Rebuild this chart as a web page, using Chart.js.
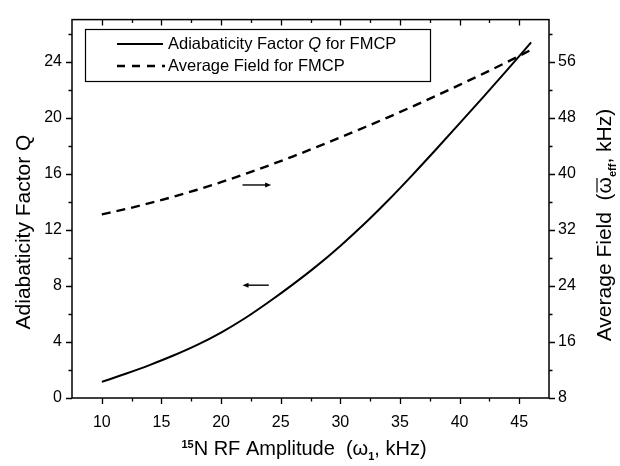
<!DOCTYPE html>
<html>
<head>
<meta charset="utf-8">
<script src="https://cdn.jsdelivr.net/npm/chart.js@4.4.0/dist/chart.umd.min.js"></script>
<style>
  html, body { margin: 0; padding: 0; background: #fff; }
</style>
</head>
<body>
<canvas id="chart" width="620" height="466"></canvas>
<script>
// values
const rfAmplitude = [10, 12, 14, 16, 18, 20, 22, 24, 26, 28, 30, 32, 34, 36, 38, 40, 42, 44, 46];
const adiabaticityQ = [1.15, 1.73, 2.35, 3.03, 3.79, 4.67, 5.69, 6.85, 8.09, 9.41, 10.85, 12.41, 14.09, 15.87, 17.71, 19.59, 21.49, 23.41, 25.37];
const averageField = [34.2, 34.96, 35.8, 36.72, 37.72, 38.8, 39.96, 41.18, 42.46, 43.8, 45.18, 46.6, 48.06, 49.56, 51.1, 52.68, 54.3, 55.96, 57.68];

const xTicks = [10, 15, 20, 25, 30, 35, 40, 45];
const xMinorTicks = [12.5, 17.5, 22.5, 27.5, 32.5, 37.5, 42.5];
const qTicks = [0, 4, 8, 12, 16, 20, 24];
const qMinorTicks = [2, 6, 10, 14, 18, 22, 26];
const fieldTicks = [8, 16, 24, 32, 40, 48, 56];
const fieldMinorTicks = [12, 20, 28, 36, 44, 52, 60];

// little arrows telling which axis each curve belongs to (data units)
const arrowQ = { from: 24.0, to: 21.8, y: 8.05, axis: 'y' };
const arrowField = { from: 21.8, to: 24.2, y: 15.2, axis: 'y' };

const FONT = '"Liberation Sans", Arial, Helvetica, sans-serif';

function pairs(xs, ys) {
  return xs.map((x, i) => ({ x: x, y: ys[i] }));
}

function fixedTicks(list) {
  return scale => { scale.ticks = list.map(v => ({ value: v })); };
}

// draw a run of text pieces (different fonts / offsets) left to right
function drawRuns(ctx, runs, x, y) {
  let cx = x;
  runs.forEach(r => {
    ctx.font = r.font;
    ctx.fillText(r.text, cx, y + (r.dy || 0));
    const w = ctx.measureText(r.text).width;
    if (r.bar) {
      ctx.save();
      ctx.lineWidth = 1.2;
      ctx.beginPath();
      ctx.moveTo(cx + 1, y - r.bar);
      ctx.lineTo(cx + w - 1, y - r.bar);
      ctx.stroke();
      ctx.restore();
    }
    cx += w;
  });
}

function runsWidth(ctx, runs) {
  return runs.reduce((s, r) => { ctx.font = r.font; return s + ctx.measureText(r.text).width; }, 0);
}

function drawArrow(ctx, x0, x1, y) {
  const dir = Math.sign(x1 - x0);
  ctx.beginPath();
  ctx.moveTo(x0, y);
  ctx.lineTo(x1 - dir * 4, y);
  ctx.stroke();
  ctx.beginPath();
  ctx.moveTo(x1, y);
  ctx.lineTo(x1 - dir * 6, y - 2.5);
  ctx.lineTo(x1 - dir * 6, y + 2.5);
  ctx.closePath();
  ctx.fill();
}

const decorations = {
  id: 'decorations',
  afterDraw(chart) {
    const { ctx, chartArea: a, scales } = chart;
    const sx = scales.x, sq = scales.y, sf = scales.y2;
    ctx.save();
    ctx.strokeStyle = '#000';
    ctx.fillStyle = '#000';

    // frame
    ctx.lineWidth = 1.5;
    ctx.strokeRect(a.left, a.top, a.right - a.left, a.bottom - a.top);

    // tick marks
    ctx.lineWidth = 1.3;
    ctx.beginPath();
    const xt = (vals, len) => vals.forEach(v => {
      const p = Math.round(sx.getPixelForValue(v)) + 0.5;
      ctx.moveTo(p, a.bottom); ctx.lineTo(p, a.bottom + len);
      ctx.moveTo(p, a.top); ctx.lineTo(p, a.top + len);
    });
    xt(xTicks, 6); xt(xMinorTicks, 3.5);
    const lt = (vals, len) => vals.forEach(v => {
      const p = Math.round(sq.getPixelForValue(v)) + 0.5;
      ctx.moveTo(a.left, p); ctx.lineTo(a.left - len, p);
    });
    lt(qTicks, 6); lt(qMinorTicks, 3.5);
    const rt = (vals, len) => vals.forEach(v => {
      const p = Math.round(sf.getPixelForValue(v)) + 0.5;
      ctx.moveTo(a.right, p); ctx.lineTo(a.right + len, p);
    });
    rt(fieldTicks, 6); rt(fieldMinorTicks, 3.5);
    ctx.stroke();

    // arrows
    ctx.lineWidth = 1.4;
    [arrowQ, arrowField].forEach(ar => {
      const y = scales[ar.axis].getPixelForValue(ar.y);
      drawArrow(ctx, sx.getPixelForValue(ar.from), sx.getPixelForValue(ar.to), y);
    });

    // legend box
    ctx.lineWidth = 1.2;
    ctx.strokeRect(85.5, 29.5, 345, 52);
    ctx.lineWidth = 2;
    ctx.beginPath(); ctx.moveTo(117, 44); ctx.lineTo(163, 44); ctx.stroke();
    ctx.setLineDash([8, 7]);
    ctx.lineWidth = 2.4;
    ctx.beginPath(); ctx.moveTo(117, 66); ctx.lineTo(165, 66); ctx.stroke();
    ctx.setLineDash([]);
    ctx.textBaseline = 'middle';
    ctx.textAlign = 'left';
    drawRuns(ctx, [
      { text: 'Adiabaticity Factor ', font: '16.5px ' + FONT },
      { text: 'Q', font: 'italic 16.5px ' + FONT },
      { text: ' for FMCP', font: '16.5px ' + FONT }
    ], 168, 44);
    drawRuns(ctx, [{ text: 'Average Field for FMCP', font: '16.5px ' + FONT }], 168, 66);

    // axis titles
    ctx.textBaseline = 'alphabetic';
    const xRuns = [
      { text: '15', font: 'bold 11px ' + FONT, dy: -7 },
      { text: 'N RF Amplitude  (\u03c9', font: '20px ' + FONT },
      { text: '1', font: 'bold 11px ' + FONT, dy: 5 },
      { text: ', kHz)', font: '20px ' + FONT }
    ];
    drawRuns(ctx, xRuns, 304 - runsWidth(ctx, xRuns) / 2, 455);

    ctx.save();
    ctx.translate(30, 232);
    ctx.rotate(-Math.PI / 2);
    const lRuns = [{ text: 'Adiabaticity Factor Q', font: '21px ' + FONT }];
    drawRuns(ctx, lRuns, -runsWidth(ctx, lRuns) / 2, 0);
    ctx.restore();

    ctx.save();
    ctx.translate(611, 225);
    ctx.rotate(-Math.PI / 2);
    const rRuns = [
      { text: 'Average Field  (', font: '21px ' + FONT },
      { text: '\u03c9', font: '21px ' + FONT, bar: 14 },
      { text: 'eff', font: 'bold 11px ' + FONT, dy: 5 },
      { text: ', kHz)', font: '21px ' + FONT }
    ];
    drawRuns(ctx, rRuns, -runsWidth(ctx, rRuns) / 2, 0);
    ctx.restore();

    ctx.restore();
  }
};

const tickFont = { family: FONT, size: 16 };
const noGrid = { display: false, drawTicks: false };

new Chart(document.getElementById('chart'), {
  type: 'line',
  data: {
    datasets: [
      {
        label: 'Adiabaticity Factor Q for FMCP',
        data: pairs(rfAmplitude, adiabaticityQ),
        yAxisID: 'y',
        borderColor: '#000',
        borderWidth: 2,
        pointRadius: 0,
        cubicInterpolationMode: 'monotone',
        fill: false
      },
      {
        label: 'Average Field for FMCP',
        data: pairs(rfAmplitude, averageField),
        yAxisID: 'y2',
        borderColor: '#000',
        borderWidth: 2.4,
        borderDash: [9, 6],
        pointRadius: 0,
        cubicInterpolationMode: 'monotone',
        fill: false
      }
    ]
  },
  options: {
    responsive: false,
    animation: false,
    devicePixelRatio: 1,
    layout: { padding: { top: 14, left: 0, right: 0, bottom: 0 } },
    plugins: {
      legend: { display: false },
      tooltip: { enabled: false }
    },
    scales: {
      x: {
        type: 'linear',
        position: 'bottom',
        min: 7.5,
        max: 47.5,
        afterBuildTicks: fixedTicks(xTicks),
        afterFit: s => { s.height = 68; },
        grid: noGrid,
        border: { display: false },
        ticks: { color: '#000', font: tickFont, padding: 15, maxRotation: 0 }
      },
      y: {
        type: 'linear',
        position: 'left',
        min: 0,
        max: 27,
        afterBuildTicks: fixedTicks(qTicks),
        afterFit: s => { s.width = 72; },
        grid: noGrid,
        border: { display: false },
        ticks: { color: '#000', font: tickFont, padding: 10 }
      },
      y2: {
        type: 'linear',
        position: 'right',
        min: 8,
        max: 62,
        afterBuildTicks: fixedTicks(fieldTicks),
        afterFit: s => { s.width = 71; },
        grid: noGrid,
        border: { display: false },
        ticks: { color: '#000', font: tickFont, padding: 9 }
      }
    }
  },
  plugins: [decorations]
});
</script>
</body>
</html>
